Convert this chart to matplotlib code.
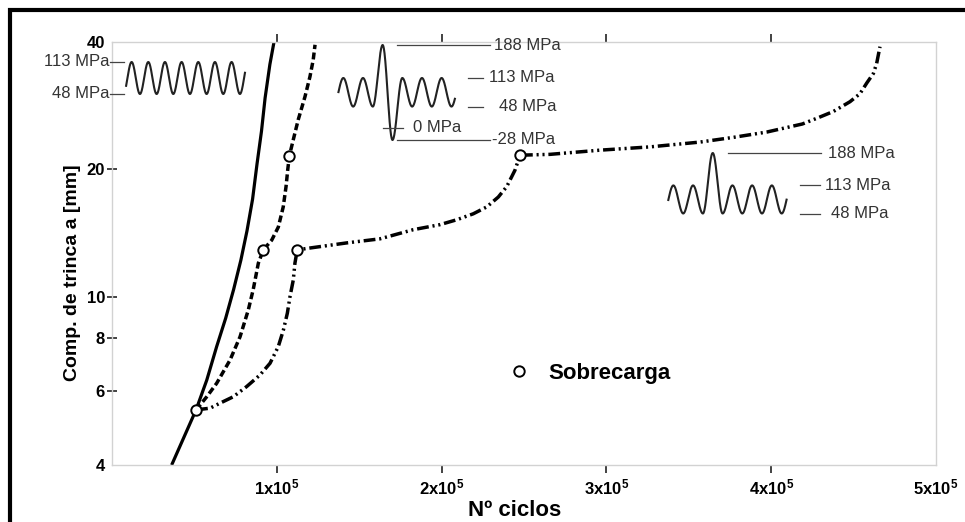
import numpy as np
import matplotlib.pyplot as plt
from matplotlib.lines import Line2D

plt.rcParams['font.family'] = ['Liberation Sans', 'DejaVu Sans']
plt.rcParams['mathtext.fontset'] = 'custom'
plt.rcParams['mathtext.rm'] = 'Liberation Sans'
plt.rcParams['mathtext.bf'] = 'Liberation Sans:bold'

# crack length a [mm] vs. number of cycles N
# constant amplitude loading (113 / 48 MPa)
n_const = [36200, 43300, 51000, 57500, 63500, 69000, 73800, 78200, 81900,
           85300, 88000, 90700, 92900, 95800, 98300]
a_const = [4.0, 4.62, 5.4, 6.35, 7.62, 8.9, 10.4, 12.2, 14.3,
           17.0, 20.6, 24.6, 29.5, 35.4, 40.0]

# overloads 188 MPa with underload -28 MPa
n_under = [51000, 57500, 63500, 71600, 77700, 82700, 85700, 88800, 91800,
           96900, 100900, 103900, 105600, 106600, 107600, 110000, 113000,
           117100, 120100, 122100, 123200]
a_under = [5.4, 5.8, 6.24, 7.08, 8.04, 9.3, 10.4, 12.0, 12.9,
           13.6, 14.6, 16.3, 18.2, 19.9, 21.5, 23.5, 26.2,
           29.7, 33.1, 36.3, 39.4]

# overloads 188 MPa only
n_over = [51000, 59500, 65500, 73600, 81700, 89800, 95900, 100900, 104000,
          106400, 108000, 110000, 111000, 112400, 118100, 142400, 162600,
          182800, 199000, 209200, 219200, 227400, 234400, 239500, 242500,
          244500, 247600, 265800, 296100, 326500, 356800, 377000, 397300,
          418900, 427600, 437700, 447800, 453900, 458000, 462000, 464000,
          466000]
a_over = [5.4, 5.45, 5.6, 5.8, 6.13, 6.53, 6.96, 7.62, 8.34,
          9.14, 10.0, 10.95, 12.0, 12.9, 13.0, 13.4, 13.7,
          14.4, 14.8, 15.2, 15.7, 16.3, 17.2, 18.2, 19.2,
          19.9, 21.6, 21.7, 22.2, 22.6, 23.2, 23.8, 24.5,
          25.6, 26.4, 27.4, 28.9, 30.2, 32.0, 33.7, 35.6,
          39.0]

# overload points (Sobrecarga)
n_mark = [51000, 91800, 107600, 112400, 247600]
a_mark = [5.4, 12.9, 21.5, 12.9, 21.6]

x_ticks = [1e5, 2e5, 3e5, 4e5, 5e5]
x_labels = [r'$\mathbf{1x10^{5}}$', r'$\mathbf{2x10^{5}}$', r'$\mathbf{3x10^{5}}$',
            r'$\mathbf{4x10^{5}}$', r'$\mathbf{5x10^{5}}$']
y_ticks = [4, 6, 8, 10, 20, 40]

# load spectra sketched in the insets (successive peaks / valleys, MPa)
wave_const = [48, 113, 48, 113, 48, 113, 48, 113, 48, 113, 48, 113, 48, 113, 48, 113]
wave_under = [48, 113, 48, 113, 48, 188, -28, 113, 48, 113, 48, 113, 48, 113]
wave_over = [48, 113, 48, 113, 48, 188, 48, 113, 48, 113, 48, 113, 48, 113]

W, H = 965, 522
fig = plt.figure(figsize=(W / 100, H / 100), dpi=100)
ax = fig.add_axes([112 / W, 1 - 465 / H, 824 / W, 423 / H])

ax.plot(n_const, a_const, color='black', lw=2.3, solid_capstyle='butt',
        solid_joinstyle='round')
ax.plot(n_under, a_under, color='black', lw=2.5, ls=(0, (2.0, 1.0)))
ax.plot(n_over, a_over, color='black', lw=2.5, ls=(0, (3.4, 1.1, 0.6, 1.1, 0.6, 1.1)))
ax.plot(n_mark, a_mark, ls='none', marker='o', ms=7.5, mfc='white', mec='black',
        mew=1.4, zorder=5, label='Sobrecarga')

ax.set_yscale('log')
ax.set_xlim(0, 5e5)
ax.set_ylim(4, 40)
ax.set_xticks(x_ticks)
ax.set_xticklabels(x_labels, fontsize=12)
ax.set_yticks(y_ticks)
ax.set_yticklabels([str(v) for v in y_ticks], fontsize=12, fontweight='bold')
ax.yaxis.set_minor_locator(plt.NullLocator())
ax.tick_params(axis='x', direction='out', length=6, width=1.2, color='#222',
               top=True, pad=3)
ax.tick_params(axis='y', direction='inout', length=7, width=1.2, color='#222', pad=1.5)
last = ax.xaxis.get_major_ticks()[-1]
last.tick1line.set_visible(False)
last.tick2line.set_visible(False)
for t in (ax.yaxis.get_major_ticks()[0], ax.yaxis.get_major_ticks()[-1]):
    t.tick1line.set_visible(False)
for s in ax.spines.values():
    s.set_color('#d2d2d2')
    s.set_linewidth(1.0)

ax.set_xlabel('Nº ciclos', fontsize=16, fontweight='bold')
ax.xaxis.set_label_coords((515 - 112) / 824, (465 - 500) / 423)
ax.set_ylabel('Comp. de trinca a [mm]', fontsize=14, fontweight='bold')
ax.yaxis.set_label_coords((81 - 112) / 824, (465 - 273) / 423)

ax.legend(loc='center left', bbox_to_anchor=((508 - 112) / 824, (465 - 373) / 423),
          frameon=False, handlelength=1.0, handletextpad=0.8, borderpad=0,
          borderaxespad=0, prop=dict(weight='bold', size=16))


def inset(x0, x1, y_top, y_bot, lo, hi):
    a = fig.add_axes([x0 / W, 1 - y_bot / H, (x1 - x0) / W, (y_bot - y_top) / H])
    a.set_xlim(x0, x1)
    a.set_ylim(lo, hi)
    a.axis('off')
    return a


def draw_wave(a, levels, x_first, half, x_start, x_end):
    xs = x_first + half * np.arange(len(levels))
    lv = np.array(levels, dtype=float)
    x = np.linspace(xs[0], xs[-1], 800)
    i = np.clip(((x - xs[0]) // half).astype(int), 0, len(lv) - 2)
    t = (x - xs[i]) / half
    y = lv[i] + (lv[i + 1] - lv[i]) * (1 - np.cos(np.pi * t)) / 2
    keep = (x >= x_start) & (x <= x_end)
    a.plot(x[keep], y[keep], color='#222', lw=1.5, clip_on=False)


def level(a, x0, x1, v, tx, text, ha='left'):
    a.plot([x0, x1], [v, v], color='#444', lw=0.9, clip_on=False)
    a.text(tx, v, text, ha=ha, va='center', fontsize=12, color='#333', clip_on=False)


ax1 = inset(40, 250, 62, 94, 48, 113)
draw_wave(ax1, wave_const, 123.3, 8.33, 126, 245)
level(ax1, 110, 124, 113, 109, '113 MPa', ha='right')
level(ax1, 110, 124, 48, 109, '48 MPa', ha='right')

ax2 = inset(330, 570, 45, 140, -28, 188)
draw_wave(ax2, wave_under, 333.5, 9.83, 338.3, 455)
level(ax2, 397, 490, 188, 494, '188 MPa')
level(ax2, 468, 483, 113, 489, '113 MPa')
level(ax2, 468, 483, 48, 499, '48 MPa')
level(ax2, 383, 403, 0, 413, '0 MPa')
level(ax2, 397, 490, -28, 492, '-28 MPa')

ax3 = inset(660, 900, 153, 213.5, 48, 188)
draw_wave(ax3, wave_over, 663.5, 9.85, 668.3, 786.7)
level(ax3, 728, 821, 188, 828, '188 MPa')
level(ax3, 800, 820, 113, 825, '113 MPa')
level(ax3, 800, 820, 48, 831, '48 MPa')

# black frame of the original figure (left and top edges)
fig.add_artist(Line2D([10.3 / W, 10.3 / W, 1], [0, 1 - 9.5 / H, 1 - 9.5 / H],
                      color='black', lw=3, solid_joinstyle='miter',
                      transform=fig.transFigure))

fig.savefig('out.png', dpi=100)
